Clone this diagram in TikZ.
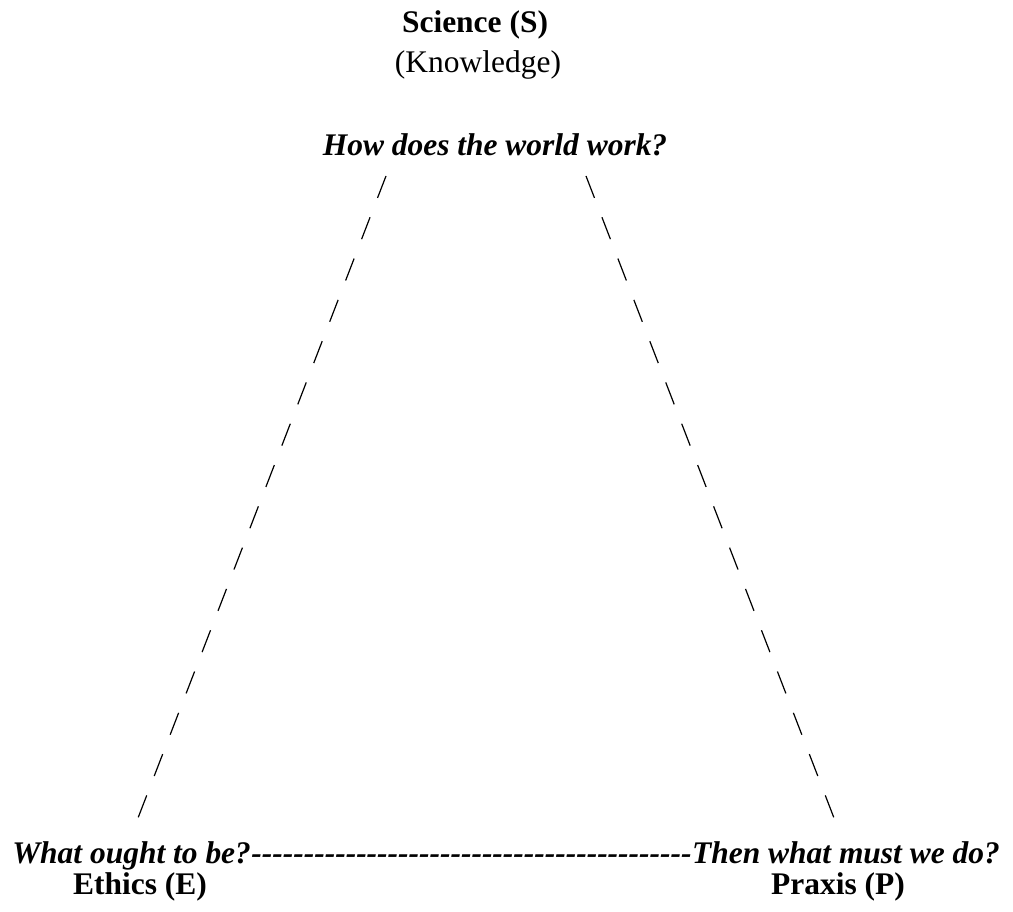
\documentclass[tikz,border=0pt]{standalone}
\usepackage{fontspec}
\setmainfont{Liberation Serif}[Ligatures=TeXOff]
\usepackage{tikz}
\usetikzlibrary{positioning}
\tikzset{
  txt/.style={inner sep=0pt,anchor=base,font=\fontsize{23.6}{28}\selectfont},
  hd/.style={txt,font=\fontsize{23.6}{28}\selectfont\bfseries},
  qn/.style={txt,font=\fontsize{23.6}{28}\selectfont\bfseries\itshape},
  slashline/.style={line width=0.9pt,dash pattern=on 17.6pt off 15.6pt}
}

\begin{document}
\begin{tikzpicture}[x=0.75pt,y=-0.75pt]
  \useasboundingbox (0,0) rectangle (1013,912);
  \node[hd] (S) at (475,33) {Science (S)};
  \node[txt] (K) at (478,73) {(Knowledge)};
  \node[qn] (qS) at (495,156) {How does the world work?};
  \node[qn,anchor=base west] (qE) at (12,863) {What ought to be?};
  \node[qn,anchor=base west] (bar) at (qE.base east) {------------------------------------------};
  \node[qn,anchor=base west] (qP) at (bar.base east) {Then what must we do?};
  \node[hd] (E) at (140,894) {Ethics (E)};
  \node[hd] (P) at (838,894) {Praxis (P)};
  \coordinate (sL) at (386,176); \coordinate (eL) at (138,818);
  \coordinate (sR) at (586,176); \coordinate (eR) at (834,818);
  \draw[slashline] (sL) -- (eL);
  \draw[slashline] (sR) -- (eR);
\end{tikzpicture}
\end{document}
